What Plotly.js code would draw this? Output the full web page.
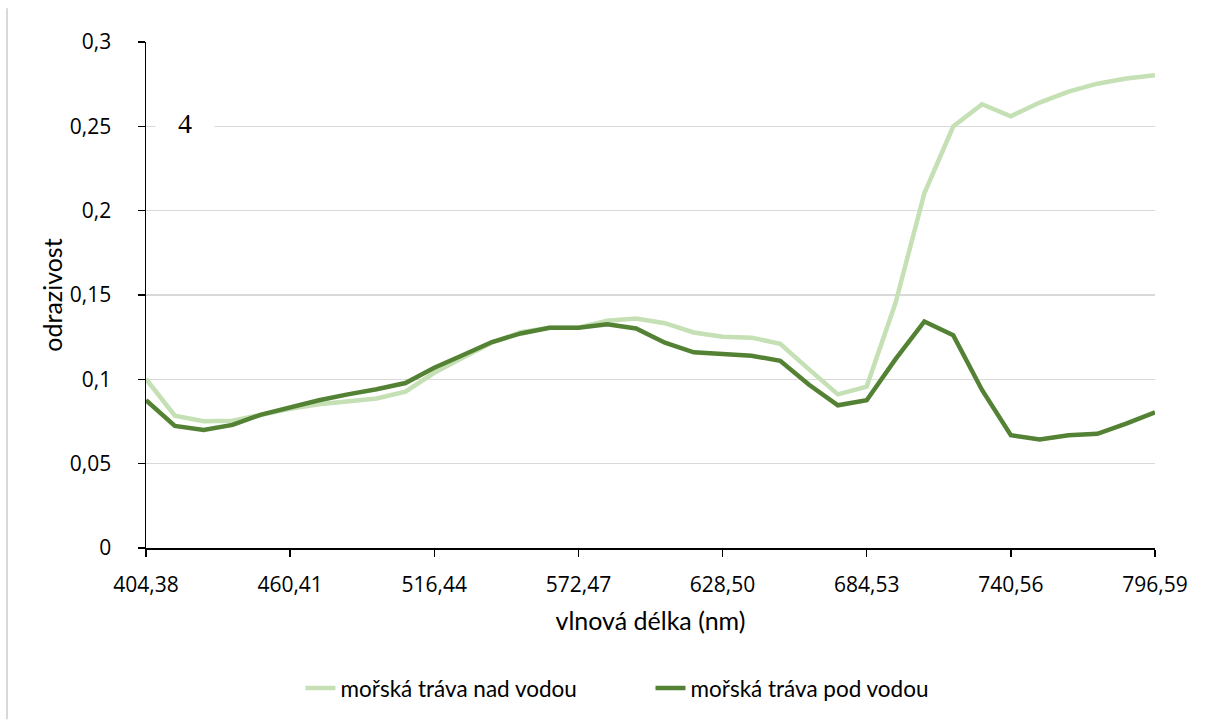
<!DOCTYPE html>
<html>
<head>
<meta charset="utf-8">
<script src="https://cdn.plot.ly/plotly-3.0.1.min.js"></script>
<style>html,body{margin:0;padding:0;background:#fff;}#chart{width:1206px;height:722px;}</style>
</head>
<body>
<div id="chart"></div>
<script>
const wavelength = [404.38, 415.59, 426.79, 438.00, 449.20, 460.41, 471.62, 482.82, 494.03, 505.23,
  516.44, 527.65, 538.85, 550.06, 561.26, 572.47, 583.68, 594.88, 606.09, 617.29,
  628.50, 639.71, 650.91, 662.12, 673.32, 684.53, 695.74, 706.94, 718.15, 729.35,
  740.56, 751.77, 762.97, 774.18, 785.38, 796.59];
const nadVodou = [0.1002, 0.0785, 0.0751, 0.0755, 0.0790, 0.0826, 0.0852, 0.0872, 0.0886, 0.0927,
  0.1039, 0.1130, 0.1217, 0.1280, 0.1306, 0.1306, 0.1347, 0.1360, 0.1333, 0.1278,
  0.1252, 0.1247, 0.1211, 0.1059, 0.0911, 0.0957, 0.1454, 0.2103, 0.2499, 0.2631,
  0.2560, 0.2641, 0.2706, 0.2753, 0.2783, 0.2803];
const podVodou = [0.0876, 0.0724, 0.0700, 0.0730, 0.0791, 0.0836, 0.0876, 0.0911, 0.0941, 0.0978,
  0.1069, 0.1144, 0.1221, 0.1272, 0.1306, 0.1306, 0.1327, 0.1302, 0.1217, 0.1160,
  0.1150, 0.1140, 0.1110, 0.0968, 0.0846, 0.0876, 0.1120, 0.1343, 0.1262, 0.0937,
  0.0669, 0.0643, 0.0669, 0.0677, 0.0738, 0.0805];
const xTickVals = [404.38, 460.41, 516.44, 572.47, 628.50, 684.53, 740.56, 796.59];
const xTickText = ["404,38", "460,41", "516,44", "572,47", "628,50", "684,53", "740,56", "796,59"];
const seriesNames = ["mořská tráva nad vodou", "mořská tráva pod vodou"];

const narrow = 'Lato, Roboto, sans-serif';
const tickFont = {family: 'Open Sans, sans-serif', size: 21, color: '#000'};

const traces = [
  {x: wavelength, y: nadVodou, name: seriesNames[0], type: 'scatter', mode: 'lines',
   line: {color: '#c5e0b4', width: 4.5}},
  {x: wavelength, y: podVodou, name: seriesNames[1], type: 'scatter', mode: 'lines',
   line: {color: '#548235', width: 4.5}}
];

const layout = {
  width: 1206, height: 722,
  margin: {l: 146, r: 51, t: 42, b: 172},
  paper_bgcolor: '#fff', plot_bgcolor: '#fff',
  separators: ', ',
  showlegend: true,
  legend: {orientation: 'h', x: 0.5, xanchor: 'center', y: -0.235, yanchor: 'top',
    font: {family: narrow, size: 22.5, color: '#000'}, entrywidth: 305, tracegroupgap: 0},
  xaxis: {
    range: [404.38, 796.59], tickmode: 'array', tickvals: xTickVals, ticktext: xTickText,
    showgrid: false, zeroline: false, showline: true, linecolor: '#000', linewidth: 1.5,
    ticks: 'outside', ticklen: 7, tickcolor: '#000', tickwidth: 1.5,
    ticklabelstandoff: 10,
    tickfont: tickFont,
    title: {text: 'vlnová délka (nm)', font: {family: narrow, size: 25, color: '#000'}, standoff: 16}
  },
  yaxis: {
    range: [0, 0.3], dtick: 0.05, tick0: 0,
    showgrid: true, gridcolor: '#d9d9d9', gridwidth: 1.5, zeroline: false,
    showline: true, linecolor: '#000', linewidth: 1.5,
    ticks: 'outside', ticklen: 7, tickcolor: '#000', tickwidth: 1.5,
    ticklabelstandoff: 22,
    tickfont: tickFont,
    title: {text: 'odrazivost', font: {family: narrow, size: 25, color: '#000'}, standoff: 0}
  },
  annotations: [
    {xref: 'paper', yref: 'y', x: (185 - 146) / 1009, y: 0.25, text: '4', showarrow: false,
     font: {family: 'Liberation Serif, serif', size: 28, color: '#000'},
     bgcolor: '#fff', width: 56, height: 34, xanchor: 'center', yanchor: 'middle', yshift: 3}
  ],
  shapes: [
    {type: 'line', xref: 'paper', yref: 'paper', x0: (7 - 146) / 1009, x1: (7 - 146) / 1009,
     y0: (550 - 722) / 508, y1: (550 - 8) / 508, line: {color: '#d9d9d9', width: 2}}
  ]
};

Plotly.newPlot('chart', traces, layout, {displayModeBar: false, staticPlot: true});
</script>
</body>
</html>
